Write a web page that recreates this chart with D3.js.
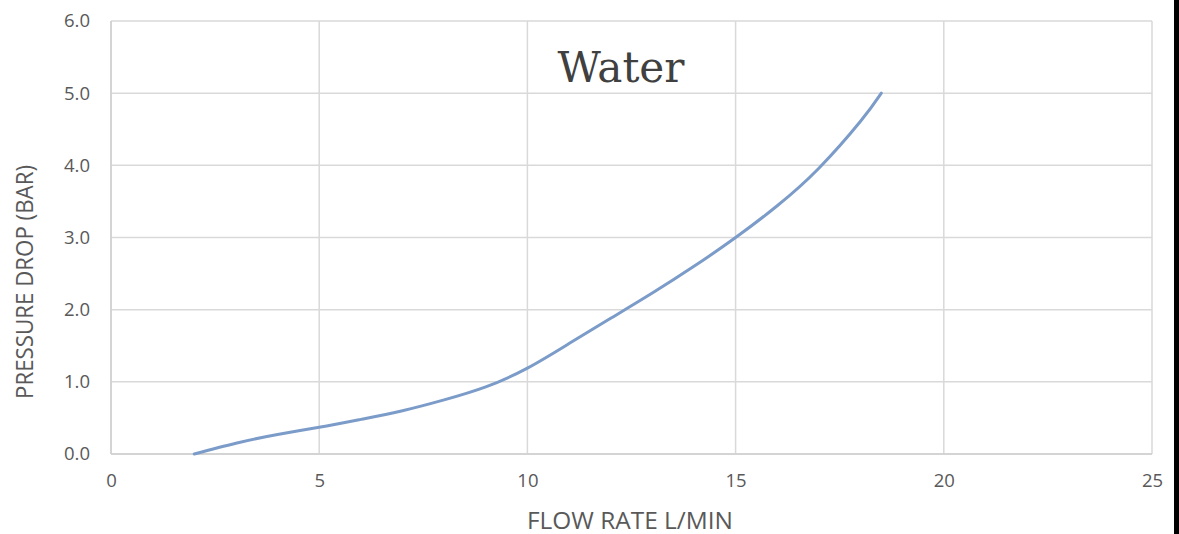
<!DOCTYPE html>
<html><head><meta charset="utf-8">
<script src="https://cdn.jsdelivr.net/npm/d3@7/dist/d3.min.js"></script>
<style>
html,body{margin:0;padding:0;background:#fff;}
svg{display:block;}
</style></head>
<body>
<svg id="chart" width="1179" height="534"></svg>
<script>
const flowRate = [2, 3, 4, 5, 6, 7, 8, 9, 10, 11, 12, 13, 14, 15, 16, 17, 18, 18.5];
const pressureDrop = [0, 0.15, 0.27, 0.37, 0.48, 0.6, 0.75, 0.93, 1.19, 1.53, 1.88, 2.23, 2.6, 3.0, 3.44, 3.96, 4.61, 5.0];
const xTicks = [0, 5, 10, 15, 20, 25];
const yTicks = [0, 1, 2, 3, 4, 5, 6];
const titleText = "Water";
const xTitle = "FLOW RATE L/MIN";
const yTitle = "PRESSURE DROP (BAR)";

const svg = d3.select("#chart");
const L = 111, R = 1152, T = 21, B = 454;
const x = d3.scaleLinear().domain([0, 25]).range([L, R]);
const y = d3.scaleLinear().domain([0, 6]).range([B, T]);
const grid = "#d9d9d9";
const txt = "#595959";
const font = "'Open Sans', 'Noto Sans', sans-serif";

// gridlines
svg.append("g").selectAll("line").data(yTicks).join("line")
  .attr("x1", L).attr("x2", R).attr("y1", d => y(d)).attr("y2", d => y(d))
  .attr("stroke", grid).attr("stroke-width", 1.5);
svg.append("g").selectAll("line").data(xTicks).join("line")
  .attr("y1", T).attr("y2", B).attr("x1", d => x(d)).attr("x2", d => x(d))
  .attr("stroke", grid).attr("stroke-width", 1.5);
svg.append("line").attr("x1", L).attr("x2", R).attr("y1", B).attr("y2", B).attr("stroke", "#cfcfcf").attr("stroke-width", 1.5);
svg.append("line").attr("x1", L).attr("x2", L).attr("y1", T).attr("y2", B).attr("stroke", "#cfcfcf").attr("stroke-width", 1.5);

// tick labels via d3 axes
const yAxis = svg.append("g").attr("transform", `translate(${L},0)`)
  .call(d3.axisLeft(y).tickValues(yTicks).tickFormat(d3.format(".1f")).tickSize(0).tickPadding(21));
const xAxis = svg.append("g").attr("transform", `translate(0,${B})`)
  .call(d3.axisBottom(x).tickValues(xTicks).tickFormat(d3.format("d")).tickSize(0).tickPadding(20));
[yAxis, xAxis].forEach(a => {
  a.select(".domain").remove();
  a.selectAll("text").attr("fill", txt).attr("font-family", font).attr("font-size", 18.5);
});

// line
const line = d3.line().x((d, i) => x(flowRate[i])).y(d => y(d)).curve(d3.curveNatural);
svg.append("path").datum(pressureDrop).attr("d", line)
  .attr("fill", "none").attr("stroke", "#7b9bc9").attr("stroke-width", 3).attr("stroke-linecap", "round");

// title
svg.append("text").attr("x", 621).attr("y", 82).attr("text-anchor", "middle")
  .attr("font-family", "'DejaVu Serif', 'Liberation Serif', serif").attr("font-size", 42)
  .attr("textLength", 127).attr("lengthAdjust", "spacingAndGlyphs")
  .attr("fill", "#404040").text(titleText);

// axis titles
svg.append("text").attr("x", 630).attr("y", 529).attr("text-anchor", "middle")
  .attr("font-family", font).attr("font-size", 24).attr("fill", txt)
  .attr("textLength", 206).attr("lengthAdjust", "spacingAndGlyphs").text(xTitle);
svg.append("text").attr("transform", "translate(33,282) rotate(-90)").attr("text-anchor", "middle")
  .attr("font-family", font).attr("font-size", 24).attr("fill", txt)
  .attr("textLength", 234).attr("lengthAdjust", "spacingAndGlyphs").text(yTitle);

// right-edge dark border of the image
svg.append("rect").attr("x", 1174).attr("y", 0).attr("width", 5).attr("height", 534).attr("fill", "#000");
</script>
</body></html>
